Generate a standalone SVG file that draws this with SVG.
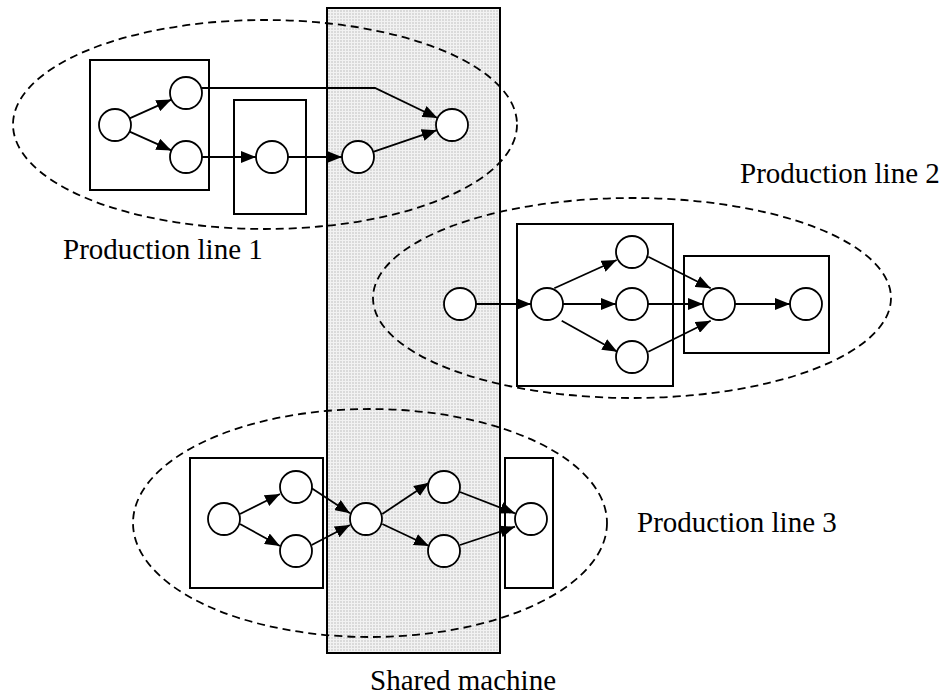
<svg xmlns="http://www.w3.org/2000/svg" width="945" height="698" viewBox="0 0 945 698">
<style>
.bg{fill:#ffffff}
.shared{fill:url(#grid);stroke:#000;stroke-width:2}
.zone{fill:none;stroke:#000;stroke-width:1.8;stroke-dasharray:8 5}
.box{fill:#fff;stroke:#000;stroke-width:2}
.node{fill:#fff;stroke:#000;stroke-width:1.8}
.edge{fill:none;stroke:#000;stroke-width:1.8;marker-end:url(#arr)}
.lbl{font-family:"Liberation Serif","Times New Roman",serif;font-size:29px;fill:#000}
</style>
<defs>
<pattern id="grid" width="3" height="3" patternUnits="userSpaceOnUse">
<rect width="3" height="3" fill="#dadada"/>
<path d="M0 0.5H3M0.5 0V3" stroke="#f2f2f2" stroke-width="1"/>
</pattern>
<marker id="arr" viewBox="0 0 15 12" refX="15" refY="6" markerUnits="userSpaceOnUse" markerWidth="15" markerHeight="12" orient="auto">
<path d="M0,0 L15,6 L0,12 z" fill="#000"/>
</marker>
</defs>
<rect class="bg" x="0" y="0" width="945" height="698"/>

<g id="shared-machine">
<rect class="shared" x="327" y="8" width="173" height="645"/>
<text class="lbl" x="370" y="690">Shared machine</text>
</g>

<g id="production-line-1">
<ellipse class="zone" cx="265" cy="124.5" rx="252" ry="104.5"/>
<text class="lbl" x="63" y="259">Production line 1</text>
</g>
<g id="production-line-2">
<ellipse class="zone" cx="632" cy="298" rx="259" ry="100"/>
<text class="lbl" x="740" y="183">Production line 2</text>
</g>
<g id="production-line-3">
<ellipse class="zone" cx="370" cy="523" rx="237" ry="114"/>
<text class="lbl" x="637" y="532">Production line 3</text>
</g>

<g id="boxes">
<rect id="boxA" class="box" x="90" y="60" width="119" height="130"/>
<rect id="boxB" class="box" x="234" y="100" width="72" height="114"/>
<rect id="boxC" class="box" x="517" y="224" width="156" height="162"/>
<rect id="boxD" class="box" x="684" y="256" width="145" height="97"/>
<rect id="boxE" class="box" x="190" y="458" width="133" height="130"/>
<rect id="boxF" class="box" x="505" y="458" width="48" height="130"/>
</g>

<g id="connectors">
<line class="edge" x1="129.6" y1="118.4" x2="171.4" y2="99.6"/>
<line class="edge" x1="129.6" y1="131.6" x2="171.4" y2="150.4"/>
<polyline class="edge" points="201.2,88 375,88 437.5,118"/>
<line class="edge" x1="202" y1="157" x2="256" y2="157"/>
<line class="edge" x1="288" y1="157" x2="342" y2="157"/>
<line class="edge" x1="373.1" y1="151.8" x2="436.8" y2="130.2"/>

<line class="edge" x1="476" y1="304" x2="531" y2="304"/>
<line class="edge" x1="554.3" y1="288.3" x2="616.7" y2="260"/>
<line class="edge" x1="563" y1="304" x2="616" y2="304"/>
<line class="edge" x1="561.7" y1="320.7" x2="617.3" y2="351.7"/>
<line class="edge" x1="648.3" y1="256.7" x2="710.7" y2="288.3"/>
<line class="edge" x1="648" y1="304" x2="703" y2="304"/>
<line class="edge" x1="648.3" y1="351.7" x2="710.7" y2="320.7"/>
<line class="edge" x1="735" y1="304" x2="790" y2="304"/>

<line class="edge" x1="240" y1="514" x2="280" y2="494"/>
<line class="edge" x1="240" y1="524" x2="280" y2="546"/>
<line class="edge" x1="311.7" y1="488.3" x2="350" y2="513.3"/>
<line class="edge" x1="311.7" y1="545" x2="350" y2="525"/>
<line class="edge" x1="382.3" y1="514" x2="429" y2="482.7"/>
<line class="edge" x1="382.3" y1="524" x2="429" y2="546"/>
<line class="edge" x1="460" y1="492" x2="515" y2="513.3"/>
<line class="edge" x1="460" y1="545" x2="515" y2="526.7"/>
</g>

<g id="a1"><circle class="node" cx="115" cy="125" r="16"/></g>
<g id="a2"><circle class="node" cx="186" cy="93" r="16"/></g>
<g id="a3"><circle class="node" cx="186" cy="157" r="16"/></g>
<g id="b1"><circle class="node" cx="272" cy="157" r="16"/></g>
<g id="c1"><circle class="node" cx="358" cy="157" r="16"/></g>
<g id="d1"><circle class="node" cx="452" cy="125" r="16"/></g>

<g id="e1"><circle class="node" cx="460" cy="304" r="16"/></g>
<g id="e2"><circle class="node" cx="547" cy="304" r="16"/></g>
<g id="e3"><circle class="node" cx="632" cy="252" r="16"/></g>
<g id="e4"><circle class="node" cx="632" cy="304" r="16"/></g>
<g id="e5"><circle class="node" cx="632" cy="357" r="16"/></g>
<g id="e6"><circle class="node" cx="719" cy="304" r="16"/></g>
<g id="e7"><circle class="node" cx="806" cy="304" r="16"/></g>

<g id="f1"><circle class="node" cx="224" cy="519" r="16"/></g>
<g id="f2"><circle class="node" cx="296" cy="487" r="16"/></g>
<g id="f3"><circle class="node" cx="296" cy="551" r="16"/></g>
<g id="f4"><circle class="node" cx="366" cy="519" r="16"/></g>
<g id="f5"><circle class="node" cx="444" cy="487" r="16"/></g>
<g id="f6"><circle class="node" cx="444" cy="551" r="16"/></g>
<g id="f7"><circle class="node" cx="531" cy="519" r="16"/></g>
</svg>
